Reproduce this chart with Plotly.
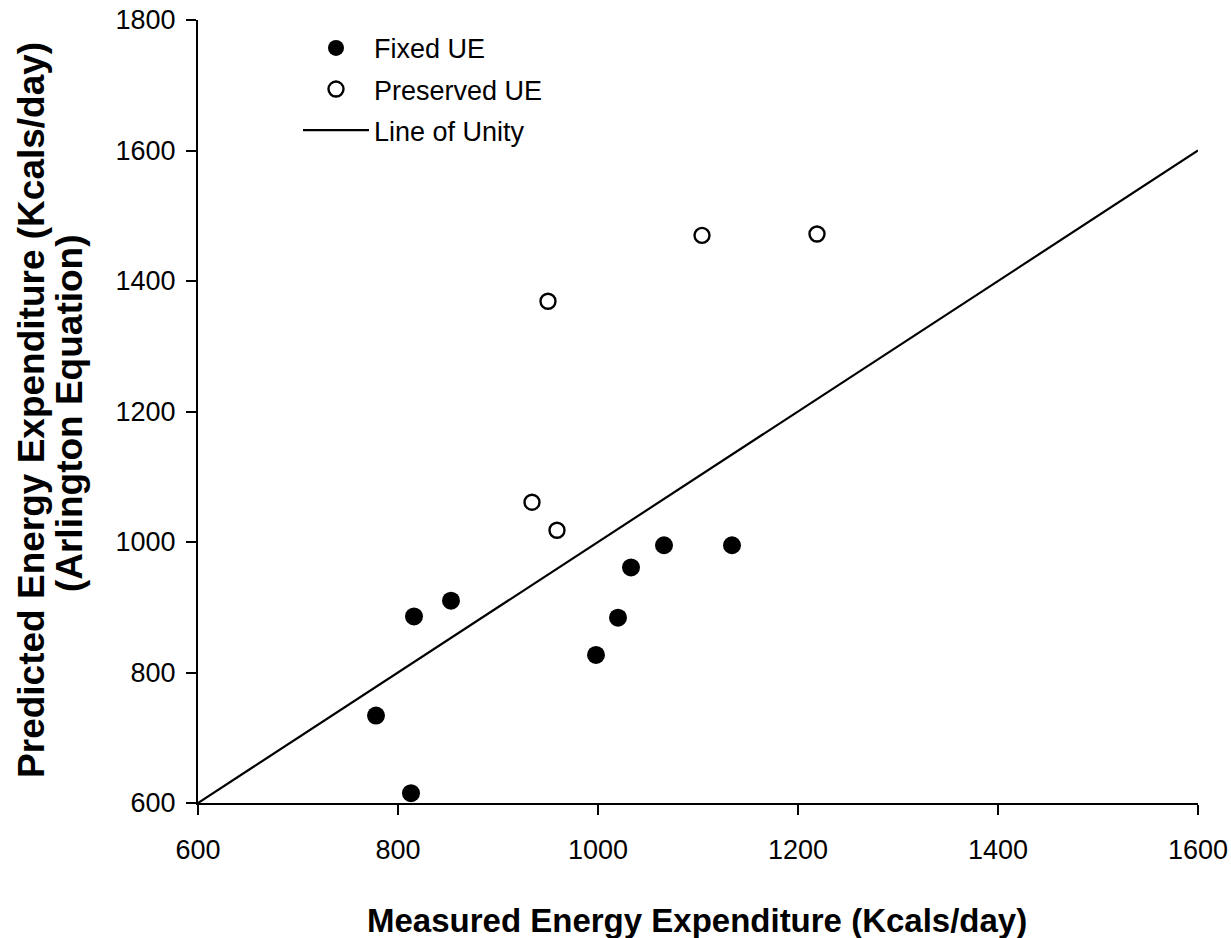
import plotly.graph_objects as go

# Data
fixed_x = [778, 813, 816, 853, 998, 1020, 1033, 1066, 1134]
fixed_y = [734, 615, 886, 910, 827, 884, 961, 995, 995]
preserved_x = [934, 950, 959, 1104, 1219]
preserved_y = [1061, 1369, 1018, 1470, 1472]
unity_x = [600, 1600]
unity_y = [600, 1600]

x_ticks = [600, 800, 1000, 1200, 1400, 1600]
y_ticks = [600, 800, 1000, 1200, 1400, 1600, 1800]

x_title = "Measured Energy Expenditure (Kcals/day)"
y_title_1 = "Predicted Energy Expenditure (Kcals/day)"
y_title_2 = "(Arlington Equation)"

FONT = "Liberation Sans, Arial, sans-serif"

fig = go.Figure()
fig.add_trace(go.Scatter(
    x=unity_x, y=unity_y, mode="lines", name="Line of Unity",
    line=dict(color="black", width=2.2), legendrank=3, legendgroup="c",
))
fig.add_trace(go.Scatter(
    x=fixed_x, y=fixed_y, mode="markers", name="Fixed UE",
    marker=dict(symbol="circle", size=18, color="black",
                line=dict(color="black", width=0)),
    legendrank=1, legendgroup="a",
))
fig.add_trace(go.Scatter(
    x=preserved_x, y=preserved_y, mode="markers", name="Preserved UE",
    marker=dict(symbol="circle-open", size=15, color="black",
                line=dict(color="black", width=2.4)),
    legendrank=2, legendgroup="b",
))

axis_common = dict(
    showline=True, linecolor="black", linewidth=2,
    ticks="outside", ticklen=10, tickwidth=2, tickcolor="black",
    showgrid=False, zeroline=False, mirror=False,
    tickfont=dict(family=FONT, size=27, color="black"),
)

fig.update_layout(
    width=1231, height=938,
    margin=dict(l=198, r=33, t=20, b=135, autoexpand=False),
    paper_bgcolor="white", plot_bgcolor="white",
    font=dict(family=FONT, color="black"),
    xaxis=dict(range=[600, 1600], tickvals=x_ticks, ticklabelstandoff=12, **axis_common),
    yaxis=dict(range=[600, 1800], tickvals=y_ticks, ticklabelstandoff=5, **axis_common),
    legend=dict(
        x=0.1, y=0.995, xanchor="left", yanchor="top",
        bgcolor="rgba(0,0,0,0)", borderwidth=0,
        font=dict(family=FONT, size=27, color="black"),
        traceorder="grouped", tracegroupgap=3, itemwidth=66,
    ),
    annotations=[
        dict(text=f"<b>{x_title}</b>", xref="paper", yref="paper",
             x=0.4985, y=0, yshift=-117, xanchor="center", yanchor="middle",
             showarrow=False, font=dict(family=FONT, size=33, color="black")),
        dict(text=f"<b>{y_title_1}</b>", xref="paper", yref="paper",
             x=0, y=0.502, xshift=-166, xanchor="center", yanchor="middle",
             textangle=-90, showarrow=False,
             font=dict(family=FONT, size=37, color="black")),
        dict(text=f"<b>{y_title_2}</b>", xref="paper", yref="paper",
             x=0, y=0.498, xshift=-129, xanchor="center", yanchor="middle",
             textangle=-90, showarrow=False,
             font=dict(family=FONT, size=37, color="black")),
    ],
)

fig.write_html("out.html")
